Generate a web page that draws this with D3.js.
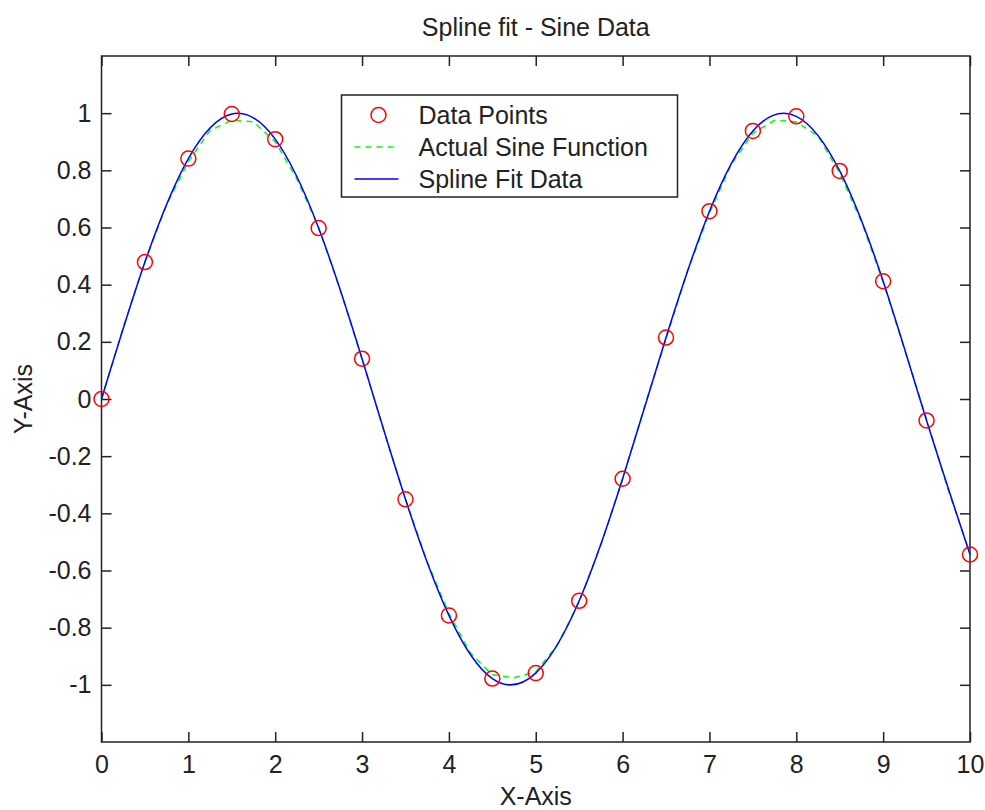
<!DOCTYPE html>
<html>
<head>
<meta charset="utf-8">
<script src="https://cdn.jsdelivr.net/npm/d3@7"></script>
<style>
  body { margin: 0; background: #fff; }
  text { font-family: "Liberation Sans", Arial, sans-serif; fill: #222; }
</style>
</head>
<body>
<div id="chart"></div>
<script>
// sample points (x = 0 : 0.5 : 10)
var pointX = [0, 0.5, 1, 1.5, 2, 2.5, 3, 3.5, 4, 4.5, 5, 5.5, 6, 6.5, 7, 7.5, 8, 8.5, 9, 9.5, 10];
var pointY = [0, 0.479, 0.841, 0.997, 0.909, 0.598, 0.141, -0.351, -0.757, -0.978, -0.959,
              -0.706, -0.279, 0.215, 0.657, 0.938, 0.989, 0.798, 0.412, -0.075, -0.544];

// dashed "actual" curve, every 0.25
var sineX = [0, 0.25, 0.5, 0.75, 1, 1.25, 1.5, 1.75, 2, 2.25, 2.5, 2.75, 3, 3.25, 3.5, 3.75, 4, 4.25,
             4.5, 4.75, 5, 5.25, 5.5, 5.75, 6, 6.25, 6.5, 6.75, 7, 7.25, 7.5, 7.75, 8, 8.25, 8.5, 8.75,
             9, 9.25, 9.5, 9.75, 10];
var sineY = [0, 0.25, 0.48, 0.68, 0.83, 0.94, 0.975, 0.97, 0.9, 0.77, 0.6, 0.38, 0.14, -0.11, -0.35,
             -0.57, -0.75, -0.89, -0.965, -0.975, -0.955, -0.86, -0.71, -0.51, -0.28, -0.03, 0.21,
             0.45, 0.65, 0.82, 0.93, 0.975, 0.97, 0.92, 0.79, 0.62, 0.41, 0.17, -0.07, -0.32, -0.54];

var xTickValues = [0, 1, 2, 3, 4, 5, 6, 7, 8, 9, 10];
var yTickValues = [-1, -0.8, -0.6, -0.4, -0.2, 0, 0.2, 0.4, 0.6, 0.8, 1];

var legendLabels = ["Data Points", "Actual Sine Function", "Spline Fit Data"];

var title = "Spline fit - Sine Data",
    xLabel = "X-Axis",
    yLabel = "Y-Axis";

var W = 985, H = 810;
var margin = {top: 56, right: 15, bottom: 68, left: 101.5};
var width = W - margin.left - margin.right,
    height = H - margin.top - margin.bottom;

var svg = d3.select("#chart").append("svg")
    .attr("width", W)
    .attr("height", H)
  .append("g")
    .attr("transform", `translate(${margin.left},${margin.top})`);

var x = d3.scaleLinear().domain([0, 10]).range([0, width]);
var y = d3.scaleLinear().domain([-1.2, 1.2]).range([height, 0]);

var fmt = d => String(+d.toFixed(1));
var tickLen = 10, fontSize = 25;

// bottom + left axes with labels, ticks pointing inward
var xAxis = svg.append("g")
    .attr("transform", `translate(0,${height})`)
    .call(d3.axisBottom(x).tickValues(xTickValues).tickFormat(fmt).tickSizeInner(-tickLen).tickSizeOuter(0).tickPadding(13));
var yAxis = svg.append("g")
    .call(d3.axisLeft(y).tickValues(yTickValues).tickFormat(fmt).tickSizeInner(-tickLen).tickSizeOuter(0).tickPadding(10));
// top + right: ticks only
svg.append("g")
    .call(d3.axisTop(x).tickValues(xTickValues).tickFormat("").tickSizeInner(-tickLen).tickSizeOuter(0));
svg.append("g")
    .attr("transform", `translate(${width},0)`)
    .call(d3.axisRight(y).tickValues(yTickValues).tickFormat("").tickSizeInner(-tickLen).tickSizeOuter(0));

svg.selectAll(".domain").remove();
svg.selectAll(".tick line").attr("stroke", "#222").attr("stroke-width", 1.5);
svg.selectAll(".tick text")
    .style("font-size", fontSize + "px")
    .style("font-family", '"Liberation Sans", Arial, sans-serif')
    .attr("fill", "#222");

svg.append("rect")
    .attr("width", width)
    .attr("height", height)
    .attr("fill", "none")
    .attr("stroke", "#222")
    .attr("stroke-width", 1.5);

// lines
var sineLine = d3.line()
    .x((d, i) => x(sineX[i]))
    .y(d => y(d));

var splineLine = d3.line()
    .x((d, i) => x(pointX[i]))
    .y(d => y(d))
    .curve(d3.curveNatural);

svg.append("path")
    .datum(sineY)
    .attr("d", sineLine)
    .attr("fill", "none")
    .attr("stroke", "#00ff00")
    .attr("stroke-width", 1.5)
    .attr("stroke-dasharray", "6,5");

svg.append("path")
    .datum(pointY)
    .attr("d", splineLine)
    .attr("fill", "none")
    .attr("stroke", "#0000ff")
    .attr("stroke-width", 1.5);

svg.append("g")
  .selectAll("circle")
    .data(pointY)
  .enter().append("circle")
    .attr("cx", (d, i) => x(pointX[i]))
    .attr("cy", d => y(d))
    .attr("r", 7.5)
    .attr("fill", "none")
    .attr("stroke", "#ff0000")
    .attr("stroke-width", 1.5);

// title and axis labels
svg.append("text")
    .attr("x", width / 2)
    .attr("y", -20)
    .attr("text-anchor", "middle")
    .style("font-size", fontSize + "px")
    .text(title);

svg.append("text")
    .attr("x", width / 2)
    .attr("y", height + 63)
    .attr("text-anchor", "middle")
    .style("font-size", fontSize + "px")
    .text(xLabel);

svg.append("text")
    .attr("transform", "rotate(-90)")
    .attr("x", -(y(0)))
    .attr("y", -margin.left + 32)
    .attr("text-anchor", "middle")
    .style("font-size", fontSize + "px")
    .text(yLabel);

// legend
var legend = svg.append("g")
    .attr("transform", `translate(${341.5 - margin.left},${95 - margin.top})`);

legend.append("rect")
    .attr("width", 336)
    .attr("height", 102)
    .attr("fill", "#fff")
    .attr("stroke", "#222")
    .attr("stroke-width", 1.5);

var rowY = [20, 52, 84];

legend.append("circle")
    .attr("cx", 37).attr("cy", rowY[0]).attr("r", 7.5)
    .attr("fill", "none").attr("stroke", "#ff0000").attr("stroke-width", 1.5);
legend.append("line")
    .attr("x1", 13).attr("x2", 57).attr("y1", rowY[1]).attr("y2", rowY[1])
    .attr("stroke", "#00ff00").attr("stroke-width", 1.5).attr("stroke-dasharray", "6,5");
legend.append("line")
    .attr("x1", 13).attr("x2", 57).attr("y1", rowY[2]).attr("y2", rowY[2])
    .attr("stroke", "#0000ff").attr("stroke-width", 1.5);

legend.selectAll(".label")
    .data(legendLabels)
  .enter().append("text")
    .attr("class", "label")
    .attr("x", 77)
    .attr("y", (d, i) => rowY[i])
    .attr("dy", "0.35em")
    .style("font-size", fontSize + "px")
    .text(d => d);
</script>
</body>
</html>
